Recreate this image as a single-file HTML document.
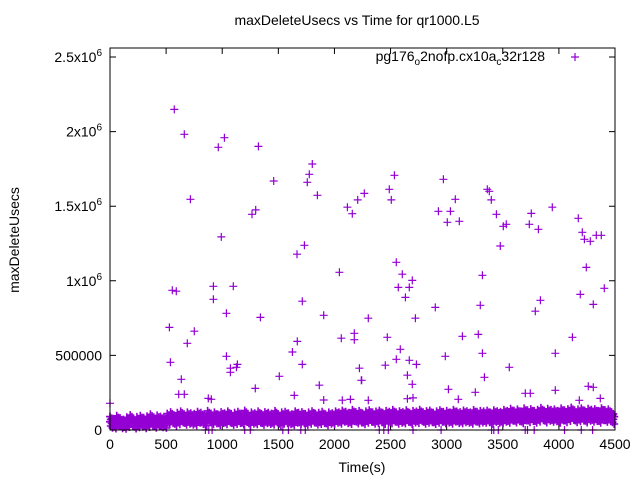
<!DOCTYPE html>
<html><head><meta charset="utf-8"><style>
body{margin:0;background:#fff}
svg{display:block;font-family:"Liberation Sans",sans-serif}
</style></head><body>
<svg id="chart" width="640" height="480" viewBox="0 0 640 480" xmlns="http://www.w3.org/2000/svg">
<rect width="640" height="480" fill="#fff"/>
<text x="357" y="25" font-size="14" text-anchor="middle">maxDeleteUsecs vs Time for qr1000.L5</text>
<text transform="translate(19,240) rotate(-90)" font-size="14" text-anchor="middle">maxDeleteUsecs</text>
<text x="362" y="472" font-size="14" text-anchor="middle">Time(s)</text>
<g id="ticks"></g>
<g id="marks"></g>
<rect x="110" y="48" width="505" height="382" fill="none" stroke="#000" stroke-width="1"/>
<g>
<text x="545" y="61" font-size="14" text-anchor="end">pg176<tspan font-size="10" dy="4">o</tspan><tspan dy="-4">2nofp.cx10a</tspan><tspan font-size="10" dy="4">c</tspan><tspan dy="-4">32r128</tspan></text>
<path d="M571 57h8M575 53v8" stroke="#9400d3" stroke-width="1.2"/>
</g>
</svg>
<script>
const xTicks=[0,500,1000,1500,2000,2500,3000,3500,4000,4500];
const yTicks=[0,500000,1000000,1500000,2000000,2500000];
const yTickLabels=["0","500000","1x10^6","1.5x10^6","2x10^6","2.5x10^6"];
const bandStep=30;
const bandHi=[90,75,95,80,70,85,100,78,88,95,82,92,105,86,98,90,84,
110,120,100,115,125,105,118,112,108,122,115,100,128,110,118,105,120,112,125,108,115,122,110,130,105,118,112,125,108,120,115,110,128,104,118,122,112,106,125,115,120,108,118,126,110,115,122,105,118,112,
125,118,130,122,115,135,120,128,112,125,132,118,124,130,115,128,122,135,118,126,120,132,115,128,124,136,119,127,130,116,125,133,121,128,118,135,124,120,131,126,118,134,122,128,125,130,117,132,126,121,
135,128,142,130,138,125,145,132,140,128,136,148,130,142,135,138,128,145,133,140,150,132,138,145,130,142,136,140,128,146,134,138,120];
const bandMid=[55,45,60,50,42,58,62,48,55,60,50,58,65,52,60,56,50,
75,80,70,78,85,72,80,76,74,82,78,70,86,75,80,72,82,76,85,74,78,82,75,88,72,80,76,84,74,82,78,75,86,70,80,82,76,72,84,78,82,74,80,85,75,78,82,72,80,76,
85,80,90,84,78,92,82,88,76,85,90,80,84,88,78,86,82,92,80,86,82,90,78,86,84,94,80,86,88,78,85,90,82,86,80,92,84,82,88,86,80,92,82,86,85,88,78,90,86,82,
95,88,100,90,96,86,102,92,98,88,94,104,90,100,94,96,88,102,92,98,106,92,96,102,90,100,94,98,88,104,92,96,84];
const bandLo=[15,10,25,12,8,20,28,10,18,22,12,20,30,15,24,18,14,
40,45,30,38,50,35,42,36,32,48,40,30,52,38,44,33,46,38,50,34,40,46,36,54,32,42,38,48,34,45,40,36,50,30,42,46,38,32,48,40,44,34,42,50,36,40,46,32,42,38,
48,42,55,46,40,58,44,50,38,48,55,42,46,52,40,50,44,56,42,48,44,54,40,50,46,58,42,48,52,40,48,54,44,50,42,56,46,44,52,48,42,56,44,50,48,52,40,54,48,44,
55,48,62,50,58,45,64,52,60,48,56,66,50,62,55,58,48,64,52,60,68,52,58,64,50,62,56,60,48,66,54,58,40];
const zeroTimes=[850,880,910,1200,1250,1540,1590,1700,1740,2400,2440,2480,2700,2950,3400,3420,3460,3700,3720,3780,4050,4200,4300];
const outT=[573,662,1019,965,1322,1803,1776,1758,1459,1848,716,1298,1265,2266,2115,2159,2207,992,1732,1666,2044,
2534,2489,2507,2971,3077,2926,3033,3006,3113,3362,3380,3398,3443,3505,3531,3736,3754,3817,3941,3478,4173,4209,4227,4280,4333,4378,4244,2551,2605,2694,2569,2667,3318,4405,
555,591,921,1099,921,1037,1340,1714,1904,529,751,689,2061,2177,2177,1669,1625,1714,1037,538,1073,1135,1073,1126,635,612,662,1509,1295,1642,1865,1904,2222,2239,876,903,0,2070,2142,
4191,4307,3835,3790,3300,2899,2632,2302,2721,2471,3140,3282,4120,2587,2551,2667,2453,2730,2988,3318,3968,3558,2650,2694,3336,2243,3015,3255,3104,3701,3745,3968,4262,4307,4369,4182,2302,2650,2700];
const outV=[2149,1982,1959,1895,1901,1783,1714,1660,1669,1573,1546,1475,1446,1586,1493,1450,1542,1294,1238,1178,1057,
1707,1613,1542,1680,1546,1466,1466,1392,1399,1613,1600,1542,1446,1365,1379,1379,1452,1345,1493,1233,1419,1325,1278,1265,1305,1305,1090,1124,1044,1003,956,956,1037,950,
936,930,963,963,876,782,755,863,769,688,662,581,615,648,605,594,523,440,494,454,414,440,387,420,340,239,239,360,279,232,300,201,414,333,212,206,179,200,205,
909,842,869,796,836,822,889,749,749,621,628,641,621,541,474,467,434,440,494,514,514,420,367,306,353,333,273,253,206,246,246,266,293,286,212,199,199,210,215];

const X0=110,X1=615,Y0=430,Y1=57;
function xs(t){return X0+(t-0)/(4500-0)*(X1-X0);}
function ys(v){return Y0-(v/2500000)*(Y0-Y1);}
const NS="http://www.w3.org/2000/svg";
const tg=document.getElementById('ticks');
const mg=document.getElementById('marks');
function mk(tag,attrs,parent){const e=document.createElementNS(NS,tag);for(const k in attrs)e.setAttribute(k,attrs[k]);parent.appendChild(e);return e;}

xTicks.forEach(function(t){
  const x=xs(t);
  const p=mk('path',{d:'M'+x+' 430v-6M'+x+' 48v6',stroke:'#000','stroke-width':1},tg);
  
  
  const l=mk('text',{x:x,y:449,'font-size':14,'text-anchor':'middle'},tg);
  
  
  l.textContent=String(t);
});
yTicks.forEach(function(v,i){
  const y=ys(v);
  const p=mk('path',{d:'M110 '+y+'h6M615 '+y+'h-6',stroke:'#000','stroke-width':1},tg);
  
  
  const l=mk('text',{x:102,y:y+5,'font-size':14,'text-anchor':'end'},tg);
  
  
  const parts=yTickLabels[i].split('^');
  l.appendChild(document.createTextNode(parts[0]));
  if(parts[1]){const s=mk('tspan',{'font-size':10,dy:-6},l);s.textContent=parts[1];}
});

let d='',db='';
function cross(t,v){const x=xs(t),y=ys(v);return 'M'+(x-4).toFixed(1)+' '+y.toFixed(1)+'h8M'+x.toFixed(1)+' '+(y-4).toFixed(1)+'v8';}
for(let i=0;i<bandHi.length;i++){
  const hi=bandHi[i],mid=bandMid[i],lo=bandLo[i];
  const t=i*bandStep;
  db+=cross(t,hi*1000)+cross(t+bandStep/2,(hi-12)*1000);
  db+=cross(t+bandStep/4,(mid+15)*1000)+cross(t,mid*1000)+cross(t+bandStep/2,(mid-12)*1000)+cross(t+3*bandStep/4,(mid+5)*1000);
  db+=cross(t+bandStep/4,(lo+12)*1000)+cross(t+3*bandStep/4,lo*1000);
}
zeroTimes.forEach(function(t){d+=cross(t,0);});
outT.forEach(function(t,i){d+=cross(t,outV[i]*1000);});
const band=mk('path',{d:db,stroke:'#9400d3','stroke-width':1.6,fill:'none'},mg);


const pts=mk('path',{d:d,stroke:'#9400d3','stroke-width':1.2,fill:'none'},mg);


</script>
</body></html>
